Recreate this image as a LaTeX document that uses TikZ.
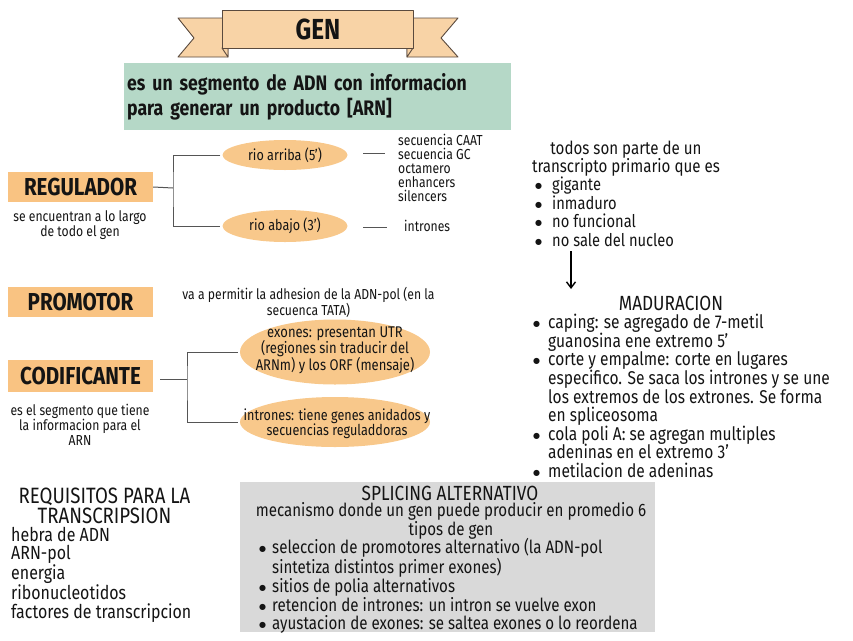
\documentclass[tikz,border=0pt]{standalone}
\usepackage{fontspec}
\setmainfont{Fira Sans}[FakeStretch=0.84]
\newfontfamily\dejavu{DejaVu Sans}
\usetikzlibrary{shapes.geometric,arrows.meta}
\definecolor{bannerfill}{HTML}{F8D3A6}
\definecolor{bannerline}{HTML}{5A4A3E}
\definecolor{defgreen}{HTML}{B5D8C7}
\definecolor{tagorange}{HTML}{F9C382}
\definecolor{ovalorange}{HTML}{F8C88B}
\definecolor{splicegray}{HTML}{D9D9D9}
\definecolor{linegray}{HTML}{555555}
\definecolor{ink}{HTML}{141414}
\newcommand\fs[2]{\fontsize{#1}{#2}\selectfont}
\newcommand\bl[2]{\makebox[#1][l]{\raisebox{2pt}{\dejavu\fontsize{8}{8}\selectfont ●}}#2}
\newcommand\ct[2]{\hspace*{#1}#2}
\begin{document}
\begin{tikzpicture}[x=1pt,y=-1pt,
  every node/.style={text=ink},
  ribbon/.style={fill=bannerfill, draw=bannerline, line width=0.9pt, line join=round},
  tag/.style={fill=tagorange, minimum width=145pt, minimum height=30pt, inner sep=0pt, font=\bfseries\fs{24.5}{26}},
  oval/.style={ellipse, fill=ovalorange, inner sep=0pt},
  ovaltext/.style={inner sep=0pt, align=center},
  conn/.style={draw=linegray, line width=1pt},
  small/.style={inner sep=0pt, align=center, font=\fs{14.5}{15}},
  big/.style={inner sep=0pt, font=\fs{18}{18.6}},
  head/.style={inner sep=0pt, font=\fs{20.5}{20}},
  ]
\useasboundingbox (0,0) rectangle (853,640);

% banner
\draw[ribbon] (178,18) -- (228,18) -- (228,57) -- (178,57) -- (194,38) -- cycle;
\draw[ribbon] (222,48) -- (228,57) -- (228,48) -- cycle;
\draw[ribbon] (458,18) -- (407,18) -- (407,57) -- (458,57) -- (441,38) -- cycle;
\draw[ribbon] (413,48) -- (407,57) -- (407,48) -- cycle;
\node[ribbon, minimum width=191pt, minimum height=38pt, anchor=north west, inner sep=0pt, font=\bfseries\fs{29}{30}] (gen) at (222,10) {GEN};

% definition
\node[fill=defgreen, anchor=north west, minimum width=387pt, minimum height=67pt, text width=381pt, inner xsep=3pt, inner ysep=0pt, align=left, font=\bfseries\fs{21}{25}] (def) at (124,63) {es un segmento de ADN con informacion\\para generar un producto [ARN]};

% regulador
\node[tag] (reg) at (80.5,187) {REGULADOR};
\node[small] (regd) at (80,225.5) {se encuentran a lo largo\\de todo el gen};
\node[oval, minimum width=125pt, minimum height=30pt] (riba) at (285,155) {};
\node[ovaltext, font=\fs{15}{16}] (ribat) at (riba.center) {rio arriba (5')};
\node[oval, minimum width=125pt, minimum height=32pt] (riab) at (285,226) {};
\node[ovaltext, font=\fs{15}{16}] (riabt) at (riab.center) {rio abajo (3')};
\coordinate (rj) at (173,188);
\draw[conn] (reg.east) -- (rj);
\draw[conn] ([xshift=-2pt]riba.west) -| (rj) |- ([xshift=-2pt]riab.west);
\coordinate (s1a) at (363,153);
\coordinate (s1b) at (385,153);
\coordinate (s2a) at (363,227);
\coordinate (s2b) at (387,227);
\draw[conn] (s1a) -- (s1b);
\draw[conn] (s2a) -- (s2b);
\node[inner sep=0pt, anchor=west, align=left, font=\fs{14.5}{14}] (seq) at (398,168) {secuencia CAAT\\secuencia GC\\octamero\\enhancers\\silencers};
\node[inner sep=0pt, anchor=west, font=\fs{14.5}{14}] (intr) at (404,226) {intrones};

% transcripto primario
\node[big, align=center] (tp) at (626,158.5) {todos son parte de un\\transcripto primario que es};
\node[big, anchor=west, align=left, font=\fs{17.5}{18.5}] (tpl) at (535,212) {\bl{17pt}{gigante}\\\bl{17pt}{inmaduro}\\\bl{17pt}{no funcional}\\\bl{17pt}{no sale del nucleo}};
\coordinate (ar1) at (571,251);
\coordinate (ar2) at (571,289);
\draw[line width=1.4pt, -{Straight Barb[length=6pt,width=9pt]}] (ar1) -- (ar2);

% maduracion
\node[head] (mad) at (671,303) {MADURACION};
\node[big, anchor=west, align=left, font=\fs{18.5}{18.6}] (madl) at (533,396) {\bl{15pt}{caping: se agregado de 7-metil}\\\ct{15pt}{guanosina ene extremo 5'}\\\bl{15pt}{corte y empalme: corte en lugares}\\\ct{15pt}{especifico. Se saca los intrones y se une}\\\ct{15pt}{los extremos de los extrones. Se forma}\\\ct{15pt}{en spliceosoma}\\\bl{15pt}{cola poli A: se agregan multiples}\\\ct{15pt}{adeninas en el extremo 3'}\\\bl{15pt}{metilacion de adeninas}};

% promotor
\node[tag] (prom) at (80.5,302) {PROMOTOR};
\node[small] (promd) at (308.5,302.5) {va a permitir la adhesion de la ADN-pol (en la\\secuenca TATA)};

% codificante
\node[tag, minimum height=32pt] (cod) at (80.5,376) {CODIFICANTE};
\node[small] (codd) at (80,424.5) {es el segmento que tiene\\la informacion para el\\ARN};
\node[oval, minimum width=190pt, minimum height=65pt] (exo) at (335,352) {};
\node[ovaltext, font=\fs{15.5}{16.5}] (exot) at (335,350) {exones: presentan UTR\\(regiones sin traducir del\\ARNm) y los ORF (mensaje)};
\node[oval, minimum width=190pt, minimum height=50pt] (int) at (335,422) {};
\node[ovaltext, font=\fs{15}{15}] (intt) at (337,424) {intrones: tiene genes anidados y\\secuencias reguladdoras};
\coordinate (cs) at (160,379);
\coordinate (cj) at (187,379);
\draw[conn] (cs) -- (cj);
\draw[conn] ([xshift=-2pt]exo.west) -| (cj) |- ([xshift=-2pt]int.west);

% requisitos
\node[head, align=center, font=\fs{22.2}{20}] (req) at (104.5,506) {REQUISITOS PARA LA\\TRANSCRIPSION};
\node[big, anchor=west, align=left, font=\fs{19}{18.8}] (reql) at (11,574.6) {hebra de ADN\\ARN-pol\\energia\\ribonucleotidos\\factores de transcripcion};

% splicing
\node[fill=splicegray, anchor=north west, minimum width=415pt, minimum height=150pt, inner sep=0pt] (spl) at (240,482) {};
\node[head] (splt) at (450,493) {SPLICING ALTERNATIVO};
\node[big, align=center] (spld) at (451,521) {mecanismo donde un gen puede producir en promedio 6\\tipos de gen};
\node[big, anchor=west, align=left] (spll) at (259,586) {\bl{13pt}{seleccion de promotores alternativo (la ADN-pol}\\\ct{13pt}{sintetiza distintos primer exones)}\\\bl{13pt}{sitios de polia alternativos}\\\bl{13pt}{retencion de intrones: un intron se vuelve exon}\\\bl{13pt}{ayustacion de exones: se saltea exones o lo reordena}};
\end{tikzpicture}
\end{document}
